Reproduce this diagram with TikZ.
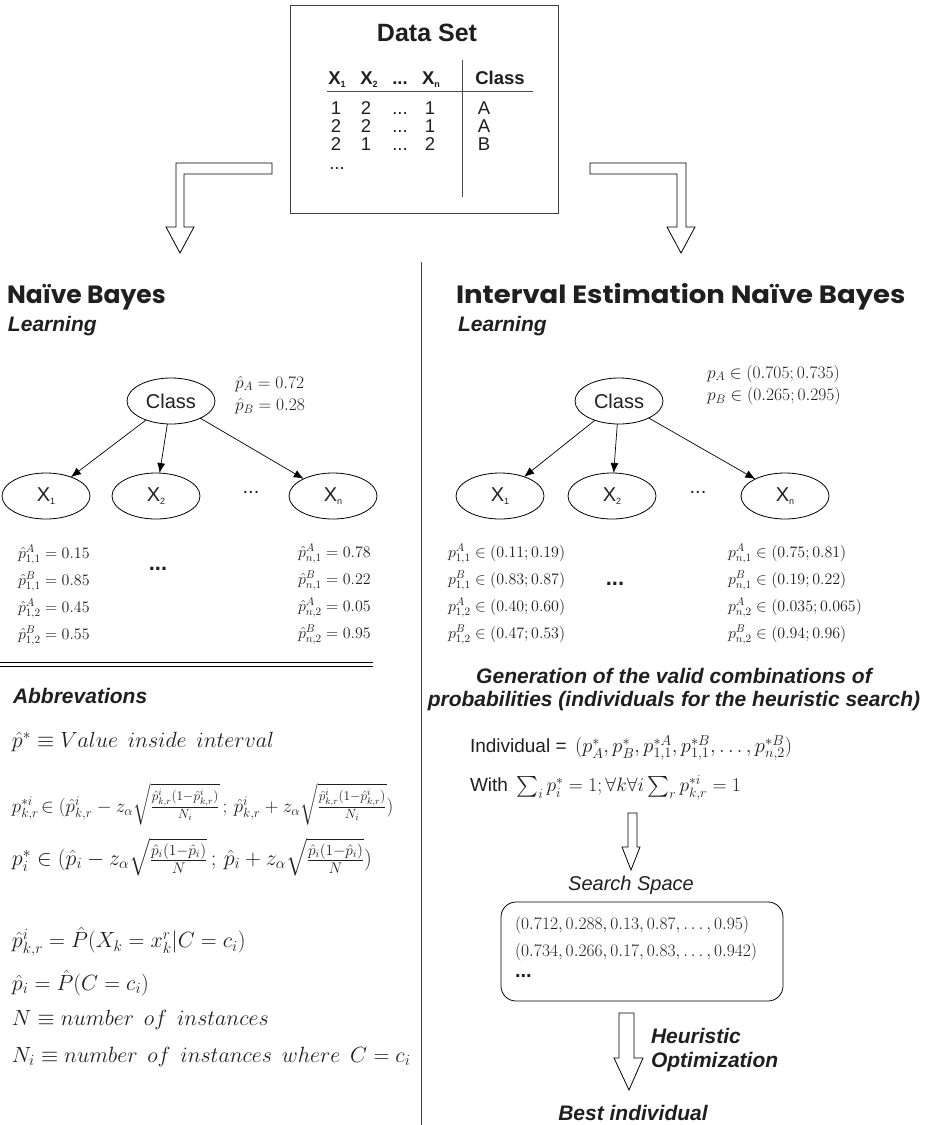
\RequirePackage{fix-cm}
\documentclass[tikz,border=0pt]{standalone}
\usepackage{amsmath}
\usepackage{fontspec}
\setmainfont{Liberation Sans}
\newfontfamily\headfont{Poppins}
\usetikzlibrary{shapes.geometric,arrows.meta}

\newcommand\setsz[1]{\fontsize{#1}{#1}\selectfont}
\newcommand\sbx[1]{\raisebox{-2.5pt}{\fontsize{9}{9}\selectfont #1}}

\tikzset{
  every node/.style={inner sep=0pt, outer sep=0pt, text=black!88},
  frame/.style={draw=black!75, line width=0.9pt},
  heading/.style={anchor=west, font=\headfont\bfseries\setsz{25}},
  lbl/.style={font=\bfseries\itshape\setsz{21}},
  cell/.style={font=\setsz{18.5}, text height=13pt, text depth=0pt},
  hcell/.style={font=\bfseries\setsz{18.5}, text height=13pt, text depth=0pt},
  bn/.style={ellipse, draw, line width=0.8pt, minimum width=88pt, minimum height=46pt, font=\setsz{20}},
  edge/.style={-{Latex[length=10pt,width=8pt]}, line width=0.7pt},
  hollow/.style={draw, line width=0.8pt, fill=white, line join=miter},
  parcol/.style={anchor=north west, align=left, font=\fontsize{16}{27}\selectfont},
  prior/.style={anchor=north west, align=left, font=\fontsize{17.5}{22.5}\selectfont},
  abbr/.style={anchor=west, font=\setsz{22}},
  dots/.style={font=\setsz{20}}
}

\begin{document}
\begin{tikzpicture}[x=1pt,y=-1pt]
\useasboundingbox (0,0) rectangle (934,1125);

% ---------------- data set ----------------
\node[frame, minimum width=268pt, minimum height=208pt] (data) at (424,109) {};
\node[font=\bfseries\setsz{25}] (dstitle) at (427,33) {Data Set};
\node[hcell] at (337,78) {X\sbx{1}};
\node[hcell] at (369,78) {X\sbx{2}};
\node[hcell] at (400,78) {...};
\node[hcell] at (431,78) {X\sbx{n}};
\node[hcell] at (500,78) {Class};
\draw[line width=0.8pt, black!70] (327,91) -- (533,91);
\draw[line width=0.8pt, black!70] (462,60) -- (462,197);
\foreach \y/\a/\b/\c/\k in {108/1/2/1/A,126/2/2/1/A,144/2/1/2/B}{
  \node[cell] at (336,\y) {\a};
  \node[cell] at (366,\y) {\b};
  \node[cell] at (400,\y) {...};
  \node[cell] at (430,\y) {\c};
  \node[cell] at (484,\y) {\k};
}
\node[cell] at (337,163) {...};

% hollow bent arrows from the data set
\draw[hollow] (272,163) -- (176,163) -- (176,227) -- (166,227) -- (180,253)
  -- (194,227) -- (184,227) -- (184,174) -- (272,174) -- cycle;
\draw[hollow] (590,163) -- (686,163) -- (686,227) -- (695,227) -- (681,253)
  -- (667,227) -- (677,227) -- (677,174) -- (590,174) -- cycle;

% central divider
\draw[line width=0.9pt, black!75] (421,262) -- (421,1125);

% ---------------- naive Bayes ----------------
\node[heading] (nbtitle) at (7,297) {Naïve Bayes};
\node[lbl, anchor=west] (nblearn) at (8,326) {Learning};

\node[bn] (lc) at (171,401) {Class};
\node[bn] (l1) at (46,496) {X\sbx{1}};
\node[bn] (l2) at (156,496) {X\sbx{2}};
\node[bn] (ln) at (333,496) {X\sbx{n}};
\node[dots] at (251,492) {...};
\draw[edge] (lc) -- (l1);
\draw[edge] (lc) -- (l2);
\draw[edge] (lc) -- (ln);

\node[prior] (lprior) at (235,376) {$\hat p_A=0.72$\\$\hat p_B=0.28$};

\node[parcol] (lpar1) at (18,545) {$\hat p^A_{1,1}=0.15$\\$\hat p^B_{1,1}=0.85$\\$\hat p^A_{1,2}=0.45$\\$\hat p^B_{1,2}=0.55$};
\node[parcol] (lparn) at (298,544) {$\hat p^A_{n,1}=0.78$\\$\hat p^B_{n,1}=0.22$\\$\hat p^A_{n,2}=0.05$\\$\hat p^B_{n,2}=0.95$};
\node[font=\bfseries\setsz{22}] at (158,569) {...};

% separator before the abbreviations
\draw[line width=0.8pt] (0,662) -- (373,662);
\draw[line width=0.8pt] (0,666) -- (373,666);

\node[lbl, anchor=west] (abbr) at (13,696) {Abbrevations};
\node[abbr] at (12,742) {$\hat p^{*}\equiv Value\ \,inside\ \,interval$};
\node[abbr, font=\setsz{19}] at (12,804) {$p^{*i}_{k,r}\!\in(\hat p^{i}_{k,r}-z_\alpha\sqrt{\frac{\hat p^i_{k,r}(1-\hat p^i_{k,r})}{N_i}}\,;\,\hat p^i_{k,r}+z_\alpha\sqrt{\frac{\hat p^i_{k,r}(1-\hat p^i_{k,r})}{N_i}})$};
\node[abbr] at (12,857) {$p^*_i\in(\hat p_i-z_\alpha\sqrt{\frac{\hat p_i(1-\hat p_i)}{N}}\,;\,\hat p_i+z_\alpha\sqrt{\frac{\hat p_i(1-\hat p_i)}{N}})$};
\node[abbr] at (12,942) {$\hat p^i_{k,r}=\hat P(X_k=x^r_k|C=c_i)$};
\node[abbr] at (12,983) {$\hat p_i=\hat P(C=c_i)$};
\node[abbr] at (12,1020) {$N\equiv number\ \,of\ \,instances$};
\node[abbr] at (12,1057) {$N_i\equiv number\ \,of\ \,instances\ \,where\ \,C=c_i$};

% ---------------- interval estimation naive Bayes ----------------
\node[heading] (ietitle) at (456,297) {\scalebox{1.1}[1]{Interval Estimation Naïve Bayes}};
\node[lbl, anchor=west] (ielearn) at (458,326) {Learning};

\node[bn] (rc) at (619,401) {Class};
\node[bn] (r1) at (500,496) {X\sbx{1}};
\node[bn] (r2) at (612,496) {X\sbx{2}};
\node[bn] (rn) at (785,496) {X\sbx{n}};
\node[dots] at (698,492) {...};
\draw[edge] (rc) -- (r1);
\draw[edge] (rc) -- (r2);
\draw[edge] (rc) -- (rn);

\node[prior] (rprior) at (707,365) {$p_A\in(0.705;0.735)$\\$p_B\in(0.265;0.295)$};

\node[parcol] (rpar1) at (448,544) {$p^A_{1,1}\in(0.11;0.19)$\\$p^B_{1,1}\in(0.83;0.87)$\\$p^A_{1,2}\in(0.40;0.60)$\\$p^B_{1,2}\in(0.47;0.53)$};
\node[parcol] (rparn) at (728,544) {$p^A_{n,1}\in(0.75;0.81)$\\$p^B_{n,1}\in(0.19;0.22)$\\$p^A_{n,2}\in(0.035;0.065)$\\$p^B_{n,2}\in(0.94;0.96)$};
\node[font=\bfseries\setsz{22}] at (615,584) {...};

\node[lbl, align=center] (gen) at (674,690) {Generation of the valid combinations of\\[2pt]probabilities (individuals for the heuristic search)};

\node[anchor=west, font=\setsz{19}] (indiv) at (470,748) {Individual = \,{\setsz{20.5}$(p^*_A,p^*_B,p^{*A}_{1,1},p^{*B}_{1,1},\ldots,p^{*B}_{n,2})$}};
\node[anchor=west, font=\setsz{19}] (with) at (470,788) {With \,{\setsz{19.5}$\sum_i p^*_i=1;\forall k\forall i\sum_r p^{*i}_{k,r}=1$}};

% hollow arrow down to the search space
\draw[hollow] (628,813) -- (637,813) -- (637,847) -- (640,847) -- (631,870)
  -- (622,847) -- (628,847) -- cycle;

\node[font=\itshape\setsz{20}] (sstitle) at (631,885) {Search Space};
\node[draw, line width=0.8pt, rounded corners=15pt, minimum width=282pt, minimum height=99pt] (space) at (642,951.5) {};
\node[anchor=west, font=\setsz{17.5}] at (515,925) {$(0.712,0.288,0.13,0.87,\ldots,0.95)$};
\node[anchor=west, font=\setsz{17.5}] at (515,952) {$(0.734,0.266,0.17,0.83,\ldots,0.942)$};
\node[anchor=west, font=\bfseries\setsz{20}] at (515,976) {...};

% hollow arrow down to the best individual
\draw[hollow] (619,1013) -- (634,1013) -- (634,1058) -- (643,1058) -- (629,1090)
  -- (614,1058) -- (619,1058) -- cycle;
\node[lbl, anchor=west, align=left, font=\bfseries\itshape\fontsize{21}{24}\selectfont] (heur) at (651,1050) {Heuristic\\Optimization};
\node[lbl] (best) at (633,1113) {Best individual};
\end{tikzpicture}
\end{document}
